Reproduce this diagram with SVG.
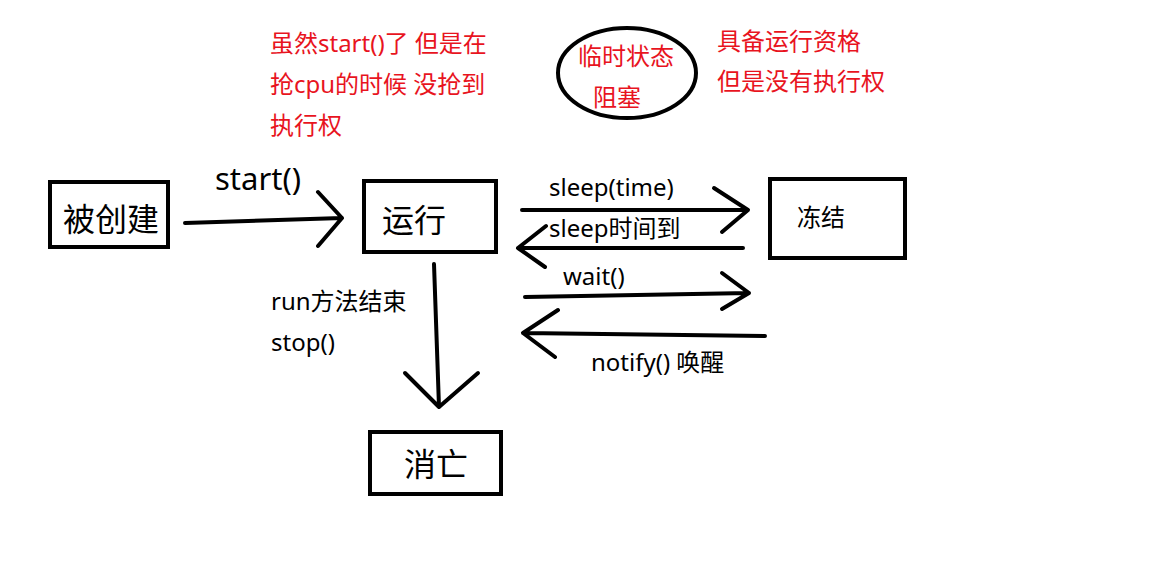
<svg xmlns="http://www.w3.org/2000/svg" width="1176" height="579" viewBox="0 0 1176 579">
<style>
.box{fill:none;stroke:#000;stroke-width:4}
.ln{fill:none;stroke:#000;stroke-width:4;stroke-linecap:round;stroke-linejoin:round}
text{font-family:"Noto Sans","Noto Sans CJK SC",sans-serif;fill:#000}
.red{fill:#e8141e;font-size:24px}
.lbl{font-size:24px}
.big{font-size:32px}
</style>
<rect width="1176" height="579" fill="#fff"/>
<g id="note-left">
<text class="red" x="270" y="52">虽然start()了 但是在</text>
<text class="red" x="270" y="93">抢cpu的时候 没抢到</text>
<text class="red" x="270" y="134">执行权</text>
</g>
<g id="blocked">
<ellipse cx="627" cy="73" rx="69" ry="45" fill="none" stroke="#000" stroke-width="4"/>
<text class="red" x="578" y="65">临时状态</text>
<text class="red" x="593" y="106">阻塞</text>
</g>
<g id="note-right">
<text class="red" x="717" y="50">具备运行资格</text>
<text class="red" x="717" y="90">但是没有执行权</text>
</g>
<g id="created">
<rect class="box" x="50" y="182" width="118" height="65"/>
<text class="big" x="63" y="231">被创建</text>
</g>
<g id="running">
<rect class="box" x="364" y="181" width="132" height="71"/>
<text class="big" x="382" y="232">运行</text>
</g>
<g id="frozen">
<rect class="box" x="770" y="179" width="135" height="79"/>
<text class="lbl" x="797" y="226">冻结</text>
</g>
<g id="dead">
<rect class="box" x="370" y="432" width="131" height="62"/>
<text class="big" x="404" y="476">消亡</text>
</g>
<g id="connectors">
<path class="ln" d="M185 223 L342 218 M318 192 L342 218 L318 246"/>
<path class="ln" d="M522 210 L748 210 M714 188 L748 210 L722 232"/>
<path class="ln" d="M743 248 L518 248 M546 226 L518 248 L545 267"/>
<path class="ln" d="M525 297 L749 293 M722 273 L749 293 L722 309"/>
<path class="ln" d="M765 336 L523 333 M558 310 L523 333 L555 357"/>
<path class="ln" d="M434 264 L439 407 M405 373 L439 407 L478 373"/>
<text x="215" y="190" font-size="31">start()</text>
<text class="lbl" x="549" y="196">sleep(time)</text>
<text class="lbl" x="549" y="237">sleep时间到</text>
<text class="lbl" x="563" y="285">wait()</text>
<text class="lbl" x="591" y="371">notify() 唤醒</text>
<text class="lbl" x="271" y="310">run方法结束</text>
<text class="lbl" x="271" y="351">stop()</text>
</g>
</svg>
